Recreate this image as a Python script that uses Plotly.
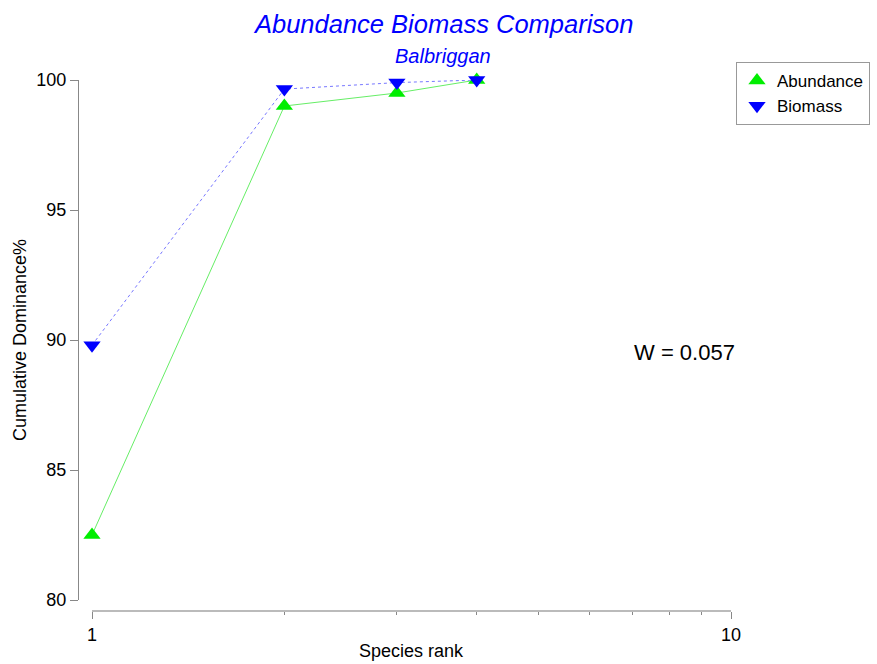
import plotly.graph_objects as go

ranks = [1, 2, 3, 4]
abundance = [82.5, 99.0, 99.5, 100.0]
biomass = [89.8, 99.65, 99.9, 100.0]
y_ticks = [80, 85, 90, 95, 100]
x_ticks = [1, 10]
x_minor = [2, 3, 4, 5, 6, 7, 8, 9]

FONT = "Liberation Sans, Arial, sans-serif"

fig = go.Figure()
fig.add_trace(go.Scatter(
    x=ranks, y=abundance, name="Abundance", mode="lines+markers",
    line=dict(color="#66ee66", width=1),
    marker=dict(symbol="triangle-up", size=15, color="#00ee00"),
    cliponaxis=False, showlegend=False,
))
fig.add_trace(go.Scatter(
    x=ranks, y=biomass, name="Biomass", mode="lines+markers",
    line=dict(color="#7777ff", width=1, dash="dot"),
    marker=dict(symbol="triangle-down", size=15, color="#0000ff"),
    cliponaxis=False, showlegend=False,
))
# legend entries (markers only, like the reference legend)
fig.add_trace(go.Scatter(
    x=[None], y=[None], name="Abundance", mode="markers",
    marker=dict(symbol="triangle-up", size=15, color="#00ee00"),
))
fig.add_trace(go.Scatter(
    x=[None], y=[None], name="Biomass", mode="markers",
    marker=dict(symbol="triangle-down", size=15, color="#0000ff"),
))


def ann(text, x, y, size, color="black", angle=0):
    return dict(text=text, xref="paper", yref="paper", x=x, y=y,
                xanchor="center", yanchor="middle", showarrow=False,
                textangle=angle, font=dict(size=size, color=color))


fig.update_layout(
    width=877, height=664,
    margin=dict(l=78, r=146, t=80, b=53, autoexpand=False),
    paper_bgcolor="white", plot_bgcolor="white",
    font=dict(family=FONT, size=18, color="black"),
    showlegend=True,
    legend=dict(
        x=(736 - 78) / 653, y=(611 - 62) / 531, xanchor="left", yanchor="top",
        bordercolor="#999999", borderwidth=1, bgcolor="rgba(255,255,255,0)",
        font=dict(size=17), tracegroupgap=0, itemwidth=30,
    ),
    xaxis=dict(
        type="log", range=[0, 1], domain=[14 / 653, 1],
        anchor="free", position=0,
        showgrid=False, zeroline=False,
        showline=True, linecolor="#bbbbbb", linewidth=2,
        tickmode="array", tickvals=x_ticks, ticktext=[str(v) for v in x_ticks],
        ticks="outside", ticklen=7, tickcolor="#888888",
        tickfont=dict(size=18),
        minor=dict(tickmode="array", tickvals=x_minor, ticks="outside",
                   ticklen=3, tickcolor="#888888", showgrid=False),
    ),
    yaxis=dict(
        range=[80, 100], domain=[11 / 531, 1],
        anchor="free", position=0,
        showgrid=False, zeroline=False,
        showline=True, linecolor="#888888", linewidth=1,
        tickmode="array", tickvals=y_ticks, ticktext=[str(v) for v in y_ticks],
        ticks="outside", ticklen=8, tickcolor="#888888",
        tickfont=dict(size=18),
    ),
    annotations=[
        ann("<i>Abundance Biomass Comparison</i>", (443 - 78) / 653, (611 - 24) / 531, 25.5, "#0000ff"),
        ann("<i>Balbriggan</i>", (443 - 78) / 653, (611 - 56) / 531, 20, "#0000ff"),
        ann("W = 0.057", (684 - 78) / 653, (611 - 352) / 531, 22),
        ann("Cumulative Dominance%", (20 - 78) / 653, (611 - 340) / 531, 18, angle=-90),
        ann("Species rank", (411 - 78) / 653, (611 - 651) / 531, 18),
    ],
)

fig.write_html("out.html", config={"displayModeBar": False},
               post_script="document.body.style.margin='0';")
